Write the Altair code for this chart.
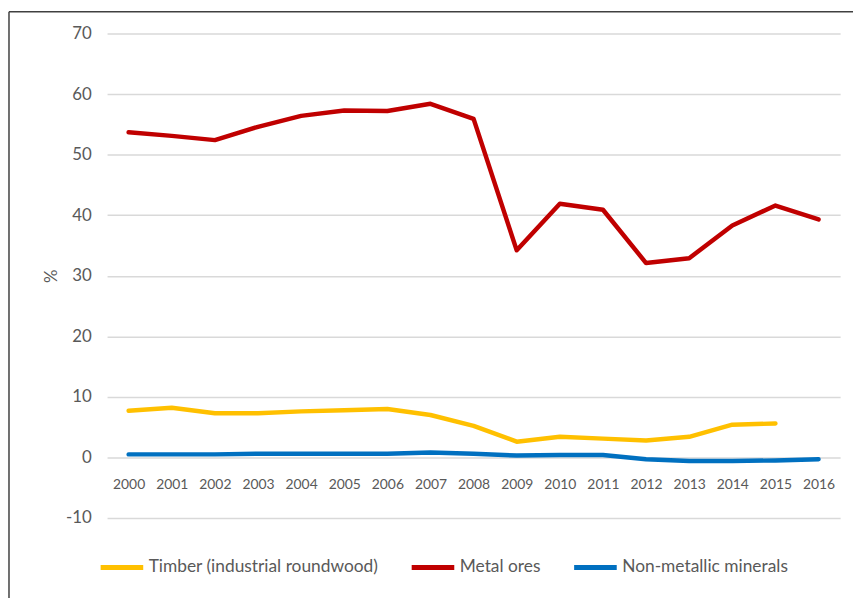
import altair as alt
import pandas as pd

years = [str(y) for y in range(2000, 2017)]
timber = [7.7, 8.2, 7.3, 7.3, 7.6, 7.8, 8.0, 7.0, 5.2, 2.6, 3.4, 3.1, 2.8, 3.4, 5.4, 5.6, None]
metal = [53.7, 53.1, 52.4, 54.6, 56.4, 57.3, 57.2, 58.4, 55.9, 34.2, 41.9, 40.9, 32.1, 32.9, 38.3, 41.6, 39.3]
nonmet = [0.5, 0.5, 0.5, 0.6, 0.6, 0.6, 0.6, 0.8, 0.6, 0.3, 0.4, 0.4, -0.3, -0.6, -0.6, -0.5, -0.3]
series = ["Timber (industrial roundwood)", "Metal ores", "Non-metallic minerals"]
colors = ["#FFC000", "#C00000", "#0070C0"]
y_ticks = [-10, 0, 10, 20, 30, 40, 50, 60, 70]

rows = []
for name, vals in zip(series, [timber, metal, nonmet]):
    for yr, v in zip(years, vals):
        rows.append({"year": yr, "series": name, "value": v})
df = pd.DataFrame(rows)

FONT = "Lato"
GRAY = "#595959"

lines = alt.Chart(df).mark_line(strokeWidth=4.5, strokeCap="round", strokeJoin="round").encode(
    x=alt.X("year:O", scale=alt.Scale(type="point", padding=0.5),
            axis=alt.Axis(title=None, labelAngle=0, domain=False, ticks=False, grid=False,
                          labelFontSize=14, labelColor=GRAY, labelFont=FONT,
                          offset=-61, labelPadding=20)),
    y=alt.Y("value:Q", scale=alt.Scale(domain=[-10, 70], nice=False, zero=False),
            axis=alt.Axis(title="%", values=y_ticks, domain=False, ticks=False,
                          grid=True, gridColor="#d9d9d9", gridWidth=1.5,
                          labelExpr="'' + datum.value",
                          labelFontSize=17, labelColor=GRAY, labelFont=FONT, labelPadding=16,
                          titleFont=FONT, titleFontSize=17, titleColor=GRAY, titleFontWeight="normal",
                          titlePadding=5)),
    color=alt.Color("series:N", scale=alt.Scale(domain=series, range=colors),
                    legend=alt.Legend(title=None, orient="none", direction="horizontal",
                                      legendX=-9, legendY=515,
                                      symbolType="stroke", symbolStrokeWidth=5, symbolSize=1849,
                                      labelFontSize=17.5, labelColor=GRAY, labelFont=FONT,
                                      labelLimit=0, labelOffset=3, columnPadding=23)),
    order=alt.Order("year:O"),
)

one = pd.DataFrame({"a": [0]})
top_border = alt.Chart(one).mark_rule(color="#404040", strokeWidth=1.5).encode(
    x=alt.value(-99), x2=alt.value(760), y=alt.value(-22), y2=alt.value(-22))
left_border = alt.Chart(one).mark_rule(color="#404040", strokeWidth=1.5).encode(
    x=alt.value(-99), x2=alt.value(-99), y=alt.value(-22), y2=alt.value(570))

chart = alt.layer(top_border, left_border, lines).properties(
    width=740, height=489,
    padding={"left": 100, "top": 23, "right": 13, "bottom": 78},
    autosize=alt.AutoSizeParams(type="none"),
).configure_view(stroke=None)

chart.save("out.html", embed_options={"renderer": "svg", "actions": False})
